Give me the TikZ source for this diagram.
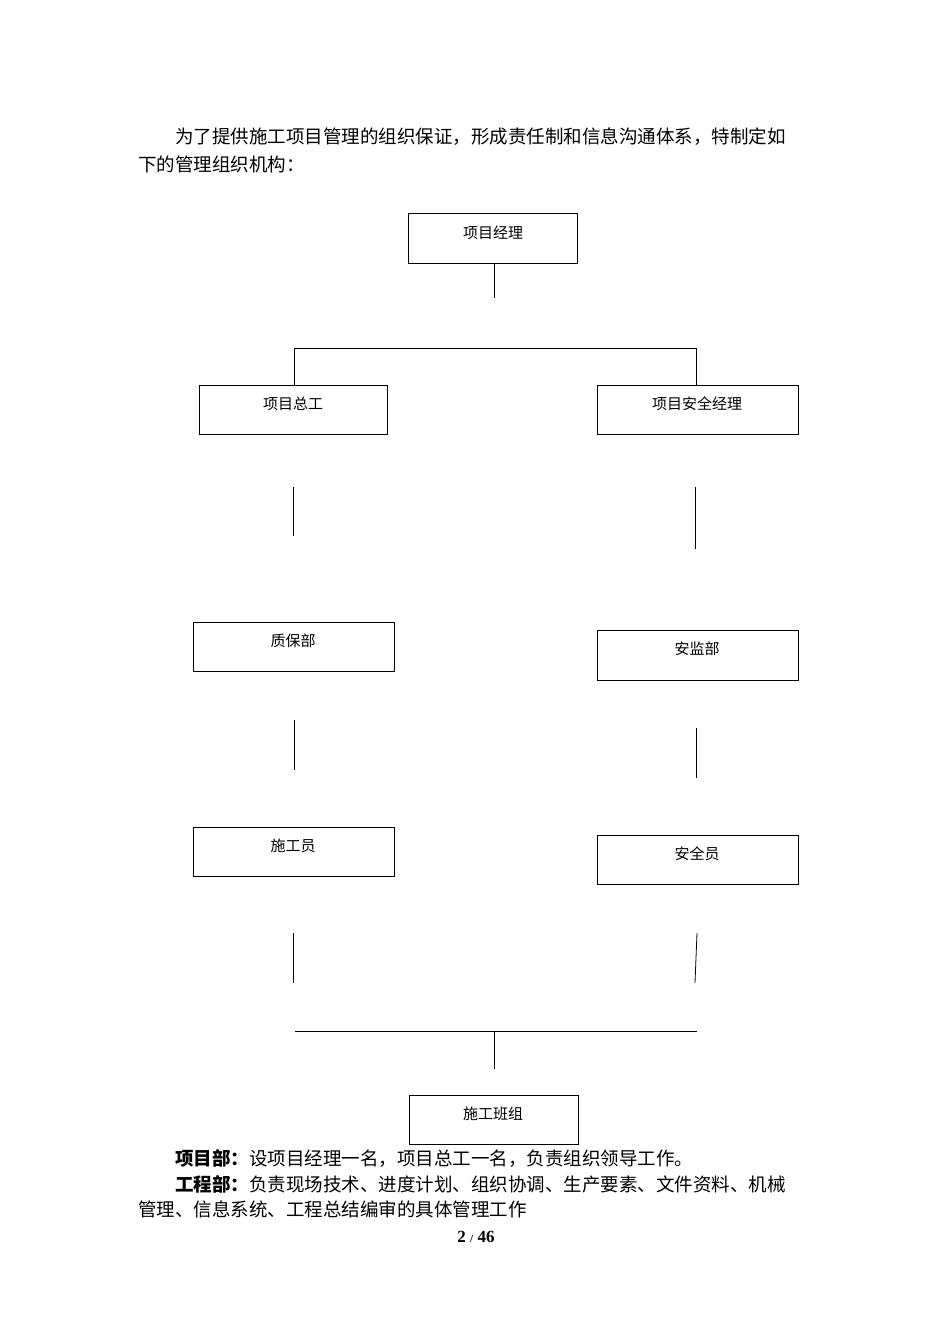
\documentclass[tikz,border=0pt]{standalone}
\usepackage{fontspec}
\setmainfont{Liberation Serif}
\newfontfamily\cjk{Noto Sans CJK SC}
\begin{document}
\begin{tikzpicture}[x=1pt,y=-1pt,
  box/.style={draw,line width=0.8pt,anchor=north west,inner sep=0pt},
  lbl/.style={font=\cjk\fontsize{15}{15}\selectfont},
  txt/.style={anchor=west,inner sep=0pt,font=\cjk\fontsize{18.5}{18.5}\selectfont},
  ln/.style={line width=0.8pt}]
\useasboundingbox (0,0) rectangle (950,1344);
\node[txt] (p1) at (175,137) {为了提供施工项目管理的组织保证，形成责任制和信息沟通体系，特制定如};
\node[txt] (p2) at (138,164) {下的管理组织机构：};
% boxes
\node[box,minimum width=169,minimum height=50] (pm) at (408,213) {};
\node[lbl] at (493,233) {项目经理};
\node[box,minimum width=188,minimum height=49] (ze) at (199,385) {};
\node[lbl] at (293,404) {项目总工};
\node[box,minimum width=201,minimum height=49] (aq) at (597,385) {};
\node[lbl] at (697,404) {项目安全经理};
\node[box,minimum width=201,minimum height=49] (zb) at (193,622) {};
\node[lbl] at (293,641) {质保部};
\node[box,minimum width=201,minimum height=50] (aj) at (597,630) {};
\node[lbl] at (697,649) {安监部};
\node[box,minimum width=201,minimum height=49] (sg) at (193,827) {};
\node[lbl] at (293,846) {施工员};
\node[box,minimum width=201,minimum height=49] (aqy) at (597,835) {};
\node[lbl] at (697,854) {安全员};
\node[box,minimum width=169,minimum height=49] (bz) at (409,1095) {};
\node[lbl] at (493,1114) {施工班组};
% lines
\draw[ln] (494,263) -- (494,298);
\draw[ln] (294,385) -- (294,348) -- (696,348) -- (696,385);
\draw[ln] (293,487) -- (293,536);
\draw[ln] (695,487) -- (695,549);
\draw[ln] (294,720) -- (294,770);
\draw[ln] (696,728) -- (696,778);
\draw[ln] (293,933) -- (293,983);
\draw[ln] (697,933) -- (695,983);
\draw[ln] (295,1031) -- (697,1031);
\draw[ln] (494,1031) -- (494,1069);
% bottom text
\node[txt] (b1) at (175,1158) {\textbf{项目部：}设项目经理一名，项目总工一名，负责组织领导工作。};
\node[txt] (b2) at (175,1184) {\textbf{工程部：}负责现场技术、进度计划、组织协调、生产要素、文件资料、机械};
\node[txt] (b3) at (138,1209) {管理、信息系统、工程总结编审的具体管理工作};
\node[anchor=center,inner sep=0pt,font=\fontsize{17}{17}\selectfont\bfseries] (pg) at (476,1237) {2 {\fontsize{11}{11}\selectfont /} 46};
\end{tikzpicture}
\end{document}
